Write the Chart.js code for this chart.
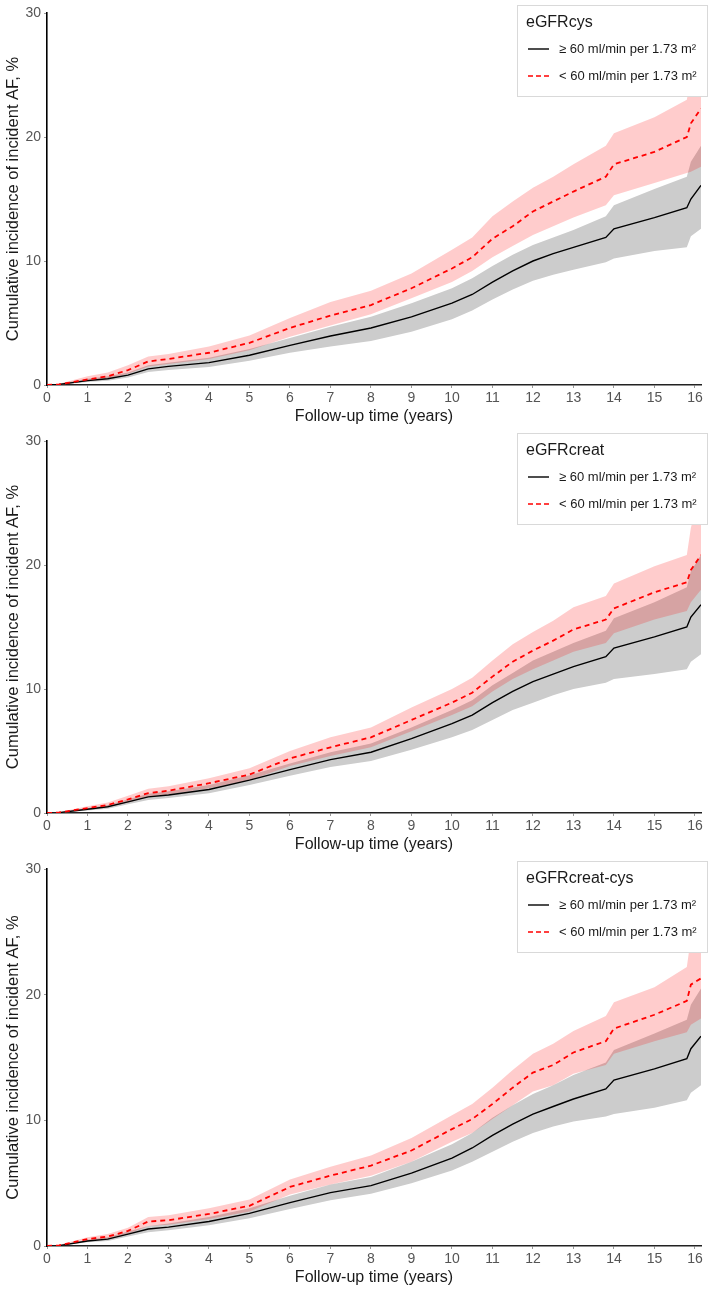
<!DOCTYPE html>
<html>
<head>
<meta charset="utf-8">
<script src="https://cdn.jsdelivr.net/npm/chart.js@4.4.1/dist/chart.umd.min.js"></script>
<style>
  body { margin: 0; background: #fff; }
  canvas { display: block; }
</style>
</head>
<body>
<canvas id="c1" width="709" height="428"></canvas>
<canvas id="c2" width="709" height="428"></canvas>
<canvas id="c3" width="709" height="433"></canvas>
<script>
const years = [0, 0.3, 1, 1.5, 2, 2.5, 3, 4, 5, 6, 7, 8, 9, 10, 10.5, 11, 11.5, 12, 12.5, 13, 13.8, 14, 15, 15.8, 15.9, 16.15];
const xTicks = [0, 1, 2, 3, 4, 5, 6, 7, 8, 9, 10, 11, 12, 13, 14, 15, 16];
const yTicks = [0, 10, 20, 30];
const groups = ['≥ 60 ml/min per 1.73 m²', '< 60 ml/min per 1.73 m²'];
const panelTitles = ['eGFRcys', 'eGFRcreat', 'eGFRcreat-cys'];

// eGFRcys
const cysHiEst = [0, 0.05, 0.35, 0.5, 0.8, 1.3, 1.5, 1.8, 2.4, 3.2, 3.95, 4.6, 5.5, 6.6, 7.3, 8.3, 9.2, 10.0, 10.6, 11.1, 11.9, 12.6, 13.5, 14.3, 15.0, 16.1];
const cysHiLo  = [0, 0.02, 0.25, 0.35, 0.6, 1.05, 1.2, 1.45, 1.95, 2.6, 3.1, 3.55, 4.3, 5.3, 6.0, 6.9, 7.7, 8.4, 8.9, 9.3, 9.9, 10.2, 10.8, 11.1, 12.0, 12.6];
const cysHiUp  = [0, 0.1, 0.5, 0.7, 1.0, 1.6, 1.8, 2.2, 2.9, 3.8, 4.7, 5.5, 6.6, 7.8, 8.6, 9.6, 10.5, 11.3, 11.9, 12.5, 13.6, 14.5, 15.8, 16.8, 18.0, 19.3];
const cysLoEst = [0, 0.05, 0.45, 0.7, 1.2, 1.9, 2.1, 2.6, 3.4, 4.6, 5.6, 6.45, 7.8, 9.4, 10.3, 11.8, 12.8, 14.0, 14.8, 15.6, 16.8, 17.8, 18.8, 20.0, 21.1, 22.3];
const cysLoLo  = [0, 0.01, 0.3, 0.5, 0.9, 1.5, 1.7, 2.1, 2.8, 3.9, 4.8, 5.7, 7.0, 8.3, 9.2, 10.3, 11.2, 12.1, 12.8, 13.5, 14.5, 15.3, 16.3, 17.1, 17.2, 17.6];
const cysLoUp  = [0, 0.1, 0.7, 1.0, 1.6, 2.3, 2.5, 3.1, 4.0, 5.4, 6.7, 7.6, 9.0, 10.9, 11.9, 13.6, 14.8, 15.9, 16.8, 17.8, 19.3, 20.3, 21.6, 23.0, 24.8, 26.0];

// eGFRcreat
const creHiEst = [0, 0.03, 0.3, 0.5, 0.9, 1.3, 1.45, 1.9, 2.65, 3.5, 4.3, 4.9, 6.0, 7.2, 7.9, 8.9, 9.8, 10.6, 11.2, 11.8, 12.6, 13.3, 14.2, 15.0, 15.8, 16.8];
const creHiLo  = [0, 0.01, 0.2, 0.35, 0.7, 1.05, 1.2, 1.6, 2.25, 3.0, 3.7, 4.2, 5.1, 6.1, 6.7, 7.5, 8.3, 8.9, 9.5, 10.0, 10.5, 10.8, 11.2, 11.6, 12.2, 12.8];
const creHiUp  = [0, 0.06, 0.4, 0.65, 1.1, 1.55, 1.75, 2.25, 3.05, 4.0, 4.9, 5.6, 6.9, 8.3, 9.1, 10.3, 11.3, 12.3, 13.0, 13.7, 14.7, 15.7, 17.0, 18.2, 19.5, 20.8];
const creLoEst = [0, 0.04, 0.4, 0.65, 1.1, 1.6, 1.8, 2.4, 3.1, 4.4, 5.3, 6.1, 7.5, 8.9, 9.7, 11.0, 12.2, 13.1, 13.9, 14.8, 15.6, 16.5, 17.8, 18.6, 19.6, 20.8];
const creLoLo  = [0, 0.01, 0.3, 0.5, 0.85, 1.3, 1.5, 2.0, 2.65, 3.8, 4.6, 5.3, 6.6, 7.9, 8.6, 9.8, 10.8, 11.6, 12.3, 13.0, 13.7, 14.5, 15.6, 16.3, 17.0, 18.0];
const creLoUp  = [0, 0.08, 0.55, 0.85, 1.4, 1.95, 2.15, 2.8, 3.6, 5.0, 6.1, 6.9, 8.5, 10.0, 10.9, 12.3, 13.6, 14.6, 15.5, 16.6, 17.5, 18.5, 19.9, 20.8, 23.0, 26.0];

// eGFRcreat-cys
const ccHiEst = [0, 0.03, 0.4, 0.55, 0.95, 1.35, 1.5, 1.95, 2.6, 3.45, 4.25, 4.8, 5.8, 7.0, 7.8, 8.8, 9.7, 10.5, 11.1, 11.7, 12.5, 13.2, 14.1, 14.9, 15.7, 16.7];
const ccHiLo  = [0, 0.01, 0.3, 0.4, 0.75, 1.1, 1.25, 1.65, 2.2, 2.95, 3.65, 4.15, 5.0, 6.0, 6.7, 7.5, 8.3, 9.0, 9.5, 9.9, 10.3, 10.5, 11.0, 11.6, 12.2, 12.8];
const ccHiUp  = [0, 0.06, 0.5, 0.7, 1.15, 1.6, 1.8, 2.3, 3.0, 4.0, 4.9, 5.5, 6.7, 8.1, 9.0, 10.2, 11.2, 12.1, 12.8, 13.6, 14.6, 15.6, 16.9, 18.0, 19.2, 20.5];
const ccLoEst = [0, 0.05, 0.55, 0.75, 1.2, 1.95, 2.05, 2.55, 3.2, 4.7, 5.6, 6.4, 7.6, 9.3, 10.1, 11.3, 12.6, 13.8, 14.4, 15.4, 16.3, 17.3, 18.4, 19.5, 20.8, 21.3];
const ccLoLo  = [0, 0.01, 0.4, 0.55, 0.95, 1.6, 1.7, 2.15, 2.75, 4.1, 4.9, 5.6, 6.7, 8.3, 9.0, 10.1, 11.2, 12.3, 12.8, 13.7, 14.4, 15.3, 16.3, 17.0, 17.6, 18.1];
const ccLoUp  = [0, 0.09, 0.7, 0.95, 1.45, 2.3, 2.45, 3.0, 3.7, 5.3, 6.3, 7.2, 8.6, 10.4, 11.3, 12.6, 14.0, 15.3, 16.1, 17.1, 18.3, 19.4, 20.6, 22.2, 24.5, 26.0];

const FONT = '"Liberation Sans", Arial, sans-serif';

function pts(arr) {
    return arr.map((v, i) => ({ x: years[i], y: v }));
}

// Legend box drawn in the top-right corner
const boxLegend = {
    id: 'boxLegend',
    afterDraw(chart, args, opts) {
        const c = chart.ctx;
        c.save();
        c.fillStyle = '#fff';
        c.fillRect(517, 5, 190, 91);
        c.strokeStyle = '#d9d9d9';
        c.lineWidth = 1;
        c.strokeRect(517.5, 5.5, 190, 91);
        c.fillStyle = '#1a1a1a';
        c.font = '16px ' + FONT;
        c.textBaseline = 'middle';
        c.fillText(opts.title, 526, 23);
        c.font = '13px ' + FONT;
        const rows = [49, 76];
        groups.forEach((g, i) => {
            c.beginPath();
            c.strokeStyle = i === 0 ? '#000' : '#ff0000';
            c.lineWidth = i === 0 ? 1.4 : 1.6;
            c.setLineDash(i === 0 ? [] : [5, 3]);
            c.moveTo(528, rows[i]);
            c.lineTo(549, rows[i]);
            c.stroke();
            c.setLineDash([]);
            c.fillStyle = '#1a1a1a';
            c.fillText(g, 559, rows[i]);
        });
        c.restore();
    }
};

function makeChart(id, title, hiEst, hiLo, hiUp, loEst, loLo, loUp) {
    new Chart(document.getElementById(id), {
        type: 'line',
        data: {
            datasets: [
                { label: groups[0], data: pts(hiEst), borderColor: '#000', borderWidth: 1.4, pointRadius: 0, tension: 0, fill: false, order: 1 },
                { label: groups[1], data: pts(loEst), borderColor: '#ff0000', borderWidth: 1.8, borderDash: [5, 4], pointRadius: 0, tension: 0, fill: false, order: 0 },
                { data: pts(loLo), borderWidth: 0, pointRadius: 0, tension: 0, fill: false, order: 2 },
                { data: pts(loUp), borderWidth: 0, pointRadius: 0, tension: 0, fill: { target: 2 }, backgroundColor: 'rgba(255,0,0,0.2)', order: 2 },
                { data: pts(hiLo), borderWidth: 0, pointRadius: 0, tension: 0, fill: false, order: 3 },
                { data: pts(hiUp), borderWidth: 0, pointRadius: 0, tension: 0, fill: { target: 4 }, backgroundColor: 'rgb(204,204,204)', order: 3 }
            ]
        },
        options: {
            responsive: false,
            animation: false,
            devicePixelRatio: 1,
            layout: { padding: { top: 13, right: 8, left: 0, bottom: 0 } },
            plugins: {
                legend: { display: false },
                tooltip: { enabled: false },
                boxLegend: { title: title }
            },
            scales: {
                x: {
                    type: 'linear',
                    min: 0,
                    max: 16.15,
                    afterBuildTicks: s => { s.ticks = xTicks.map(v => ({ value: v })); },
                    afterFit: s => { s.height = 43; },
                    grid: { display: true, drawOnChartArea: false, drawTicks: true, tickLength: 3, color: '#999' },
                    border: { display: true, color: '#222', width: 1.6 },
                    ticks: { color: '#555', padding: 2, font: { family: FONT, size: 14 } },
                    title: { display: true, text: 'Follow-up time (years)', color: '#1a1a1a', padding: { top: 0, bottom: 2 }, font: { family: FONT, size: 16 } }
                },
                y: {
                    min: 0,
                    max: 30,
                    afterBuildTicks: s => { s.ticks = yTicks.map(v => ({ value: v })); },
                    afterFit: s => { s.width = 47; },
                    grid: { display: true, drawOnChartArea: false, drawTicks: true, tickLength: 3, color: '#999' },
                    border: { display: true, color: '#000', width: 1.6 },
                    ticks: { color: '#555', padding: 3, font: { family: FONT, size: 14 } },
                    title: { display: true, text: 'Cumulative incidence of incident AF, %', color: '#1a1a1a', padding: { top: 4, bottom: 0 }, font: { family: FONT, size: 16.5 } }
                }
            }
        },
        plugins: [boxLegend]
    });
}

makeChart('c1', panelTitles[0], cysHiEst, cysHiLo, cysHiUp, cysLoEst, cysLoLo, cysLoUp);
makeChart('c2', panelTitles[1], creHiEst, creHiLo, creHiUp, creLoEst, creLoLo, creLoUp);
makeChart('c3', panelTitles[2], ccHiEst, ccHiLo, ccHiUp, ccLoEst, ccLoLo, ccLoUp);
</script>
</body>
</html>
